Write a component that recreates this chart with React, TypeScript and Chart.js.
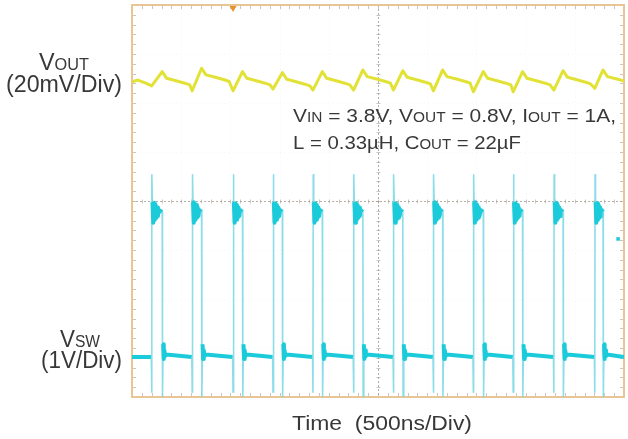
import React, { useEffect, useRef } from "react";
import { Chart, registerables } from "chart.js";

Chart.register(...registerables);

// ---------------- data ----------------
const TIME_DIV_NS = 500;
const X_DIVS = 10;
const Y_DIVS = 8;

// switching edges (ns)
const RISE_NS = [200, 612, 1027, 1433, 1839, 2252, 2657, 3063, 3469, 3874, 4287, 4703];
const FALL_NS = [307, 707, 1123, 1528, 1934, 2346, 2752, 3157, 3570, 3969, 4381, 4787];
const TRIGGER_NS = 1027;

// VSW (1 V/div)
const VSW_LOW_V = 0;
const VSW_HIGH_V = 2.96;
const VSW_RISE_SHAPE_NS = [-4, 0, 3, 8, 16, 24, 32, 40, 48, 56, 64, 72];
const VSW_RISE_SHAPE_V = [0, -0.72, 3.72, 3.16, 2.74, 3.14, 2.8, 3.1, 2.84, 3.05, 2.88, 3.0];
const VSW_FALL_SHAPE_NS = [3, 10, 16, 22, 30, 40];
const VSW_FALL_SHAPE_V = [-0.8, 0.26, -0.04, 0.14, 0.02, 0.05];
const VSW_MARKER_NS = [4940];
const VSW_MARKER_V = [2.41];

// VOUT (20 mV/div)
const VOUT_START_NS = [0, 60, 145];
const VOUT_START_MV = [799.3, 800.0, 798.6];
const VOUT_TROUGH_MV = [797.6, 795.6, 795.6, 796.3, 795.9, 795.9, 795.9, 795.6, 795.2, 795.2, 795.9, 796.6];
const VOUT_PEAK_MV = [803.4, 804.8, 803.4, 803.0, 803.4, 804.1, 803.8, 804.1, 803.4, 803.4, 803.8, 804.1];
const VOUT_SAG_NS = [45, 140, 230, 280];
const VOUT_SAG_MV = [-2.7, -3.7, -4.7, -5.4];

// axis placement (in divisions from the bottom of the screen)
const VSW_ZERO_DIV = 0.816;
const VOUT_REF_MV = 800;
const VOUT_REF_DIV = 6.469;
const VSW_V_PER_DIV = 1;
const VOUT_MV_PER_DIV = 20;

// ---------------- styles ----------------
const FONT = '"Liberation Sans", Arial, sans-serif';
const TEXT_COLOR = "#383838";
const SW_COLOR = "#1ccbd9";
const SW_EDGE = "rgba(120,215,228,0.85)";
const VOUT_COLOR = "#e2e236";
const FRAME = "#e7c594";

function buildVsw() {
  const pts: { x: number; y: number }[] = [{ x: 0, y: VSW_LOW_V }];
  for (let i = 0; i < RISE_NS.length; i++) {
    const r = RISE_NS[i];
    const f = FALL_NS[i];
    VSW_RISE_SHAPE_NS.forEach((dt, k) => {
      if (r + dt < f - 2) pts.push({ x: r + dt, y: VSW_RISE_SHAPE_V[k] });
    });
    pts.push({ x: f, y: VSW_HIGH_V });
    VSW_FALL_SHAPE_NS.forEach((dt, k) => pts.push({ x: f + dt, y: VSW_FALL_SHAPE_V[k] }));
  }
  pts.push({ x: X_DIVS * TIME_DIV_NS, y: VSW_LOW_V });
  return pts;
}

function buildVout() {
  const pts: { x: number; y: number }[] = VOUT_START_NS.map((t, k) => ({ x: t, y: VOUT_START_MV[k] }));
  for (let i = 0; i < RISE_NS.length; i++) {
    pts.push({ x: RISE_NS[i], y: VOUT_TROUGH_MV[i] });
    pts.push({ x: FALL_NS[i], y: VOUT_PEAK_MV[i] });
    VOUT_SAG_NS.forEach((dt, k) => pts.push({ x: FALL_NS[i] + dt, y: VOUT_PEAK_MV[i] + VOUT_SAG_MV[k] }));
  }
  return pts;
}

type Run = [string, number];
function drawRuns(ctx: CanvasRenderingContext2D, runs: Run[], left: number, baseline: number, width: number) {
  let natural = 0;
  for (const [t, s] of runs) {
    ctx.font = `${s}px ${FONT}`;
    natural += ctx.measureText(t).width;
  }
  const sx = width / natural;
  ctx.save();
  ctx.translate(left, baseline);
  ctx.scale(sx, 1);
  ctx.fillStyle = TEXT_COLOR;
  ctx.textBaseline = "alphabetic";
  ctx.textAlign = "left";
  let cx = 0;
  for (const [t, s] of runs) {
    ctx.font = `${s}px ${FONT}`;
    ctx.fillText(t, cx, 0);
    cx += ctx.measureText(t).width;
  }
  ctx.restore();
}

const graticule = {
  id: "graticule",
  beforeDatasetsDraw(chart: any) {
    const { ctx, chartArea: a } = chart;
    const xs = chart.scales.x;
    const divX = (a.right - a.left) / X_DIVS;
    const divY = (a.bottom - a.top) / Y_DIVS;
    ctx.save();
    // faint major grid
    ctx.strokeStyle = "rgba(200,200,200,0.18)";
    ctx.lineWidth = 1;
    ctx.setLineDash([1, 3]);
    for (let i = 1; i < X_DIVS; i++) {
      if (i === X_DIVS / 2) continue;
      const x = Math.round(a.left + i * divX) + 0.5;
      ctx.beginPath();
      ctx.moveTo(x, a.top);
      ctx.lineTo(x, a.bottom);
      ctx.stroke();
    }
    for (let j = 1; j < Y_DIVS; j++) {
      if (j === Y_DIVS / 2) continue;
      const y = Math.round(a.top + j * divY) + 0.5;
      ctx.beginPath();
      ctx.moveTo(a.left, y);
      ctx.lineTo(a.right, y);
      ctx.stroke();
    }
    // center crosshair
    ctx.strokeStyle = "rgba(150,140,130,0.7)";
    ctx.setLineDash([2, 2]);
    const cx = Math.round(xs.getPixelForValue((X_DIVS / 2) * TIME_DIV_NS)) + 0.5;
    const cy = Math.round((a.top + a.bottom) / 2) + 0.5;
    ctx.beginPath();
    ctx.moveTo(cx, a.top);
    ctx.lineTo(cx, a.bottom);
    ctx.moveTo(a.left, cy);
    ctx.lineTo(a.right, cy);
    ctx.stroke();
    ctx.setLineDash([]);
    // minor ticks
    ctx.strokeStyle = "rgba(170,160,150,0.6)";
    ctx.beginPath();
    for (let i = 1; i < X_DIVS * 5; i++) {
      const x = Math.round(a.left + (i * divX) / 5) + 0.5;
      ctx.moveTo(x, a.top);
      ctx.lineTo(x, a.top + 4);
      ctx.moveTo(x, a.bottom);
      ctx.lineTo(x, a.bottom - 4);
      ctx.moveTo(x, cy - 2);
      ctx.lineTo(x, cy + 2);
    }
    for (let j = 1; j < Y_DIVS * 5; j++) {
      const y = Math.round(a.top + (j * divY) / 5) + 0.5;
      ctx.moveTo(a.left, y);
      ctx.lineTo(a.left + 4, y);
      ctx.moveTo(a.right, y);
      ctx.lineTo(a.right - 4, y);
      ctx.moveTo(cx - 2, y);
      ctx.lineTo(cx + 2, y);
    }
    ctx.stroke();
    // frame
    ctx.strokeStyle = FRAME;
    ctx.lineWidth = 2;
    ctx.strokeRect(a.left, a.top, a.right - a.left, a.bottom - a.top);
    // trigger marker
    const tx = xs.getPixelForValue(TRIGGER_NS);
    ctx.fillStyle = "#e8902a";
    ctx.beginPath();
    ctx.moveTo(tx - 3.5, a.top + 1);
    ctx.lineTo(tx + 3.5, a.top + 1);
    ctx.lineTo(tx, a.top + 7);
    ctx.closePath();
    ctx.fill();
    ctx.restore();
  },
  afterDraw(chart: any) {
    const ctx = chart.ctx;
    drawRuns(ctx, [["V", 23], ["OUT", 16]], 39, 70, 50);
    drawRuns(ctx, [["(20mV/Div)", 23]], 6, 92, 116);
    drawRuns(ctx, [["V", 23], ["SW", 16]], 60, 347, 40);
    drawRuns(ctx, [["(1V/Div)", 23]], 41, 368, 81);
    drawRuns(
      ctx,
      [["V", 19], ["IN", 14], [" = 3.8V, V", 19], ["OUT", 14], [" = 0.8V, I", 19], ["OUT", 14], [" = 1A,", 19]],
      293,
      122,
      323
    );
    drawRuns(ctx, [["L = 0.33\u00b5H, C", 19], ["OUT", 14], [" = 22\u00b5F", 19]], 293, 149, 228);
    drawRuns(ctx, [["Time  (500ns/Div)", 20]], 292, 430, 180);
  },
};

export default function App() {
  const ref = useRef<HTMLCanvasElement | null>(null);
  useEffect(() => {
    document.body.style.margin = "0";
    const canvas = ref.current;
    if (!canvas) return;
    const steep = (c: any) => Math.abs(c.p1.parsed.y - c.p0.parsed.y) > 0.5;
    const chart = new Chart(canvas, {
      type: "line",
      data: {
        datasets: [
          {
            label: "VSW",
            data: buildVsw(),
            yAxisID: "y",
            borderColor: SW_COLOR,
            borderWidth: 4,
            pointRadius: 0,
            tension: 0,
            borderJoinStyle: "round",
            segment: {
              borderColor: (c: any) => (steep(c) ? SW_EDGE : SW_COLOR),
              borderWidth: (c: any) => (steep(c) ? 1.6 : 4),
            },
          } as any,
          {
            label: "marker",
            data: VSW_MARKER_NS.map((t, k) => ({ x: t, y: VSW_MARKER_V[k] })),
            yAxisID: "y",
            showLine: false,
            pointStyle: "rect",
            pointRadius: 2.5,
            pointBackgroundColor: SW_COLOR,
            pointBorderWidth: 0,
          } as any,
          {
            label: "VOUT",
            data: buildVout(),
            yAxisID: "y2",
            borderColor: VOUT_COLOR,
            borderWidth: 3,
            pointRadius: 0,
            tension: 0,
            borderJoinStyle: "round",
          } as any,
        ],
      },
      options: {
        animation: false,
        responsive: false,
        devicePixelRatio: 1,
        events: [],
        layout: { padding: { left: 132, top: 5, right: 3, bottom: 42 } },
        plugins: { legend: { display: false }, tooltip: { enabled: false } },
        scales: {
          x: { type: "linear", display: false, min: 0, max: X_DIVS * TIME_DIV_NS },
          y: {
            type: "linear",
            display: false,
            min: -VSW_ZERO_DIV * VSW_V_PER_DIV,
            max: (Y_DIVS - VSW_ZERO_DIV) * VSW_V_PER_DIV,
          },
          y2: {
            type: "linear",
            display: false,
            min: VOUT_REF_MV - VOUT_REF_DIV * VOUT_MV_PER_DIV,
            max: VOUT_REF_MV + (Y_DIVS - VOUT_REF_DIV) * VOUT_MV_PER_DIV,
          },
        },
      } as any,
      plugins: [graticule],
    });
    return () => chart.destroy();
  }, []);
  return (
    <div style={{ width: 628, height: 439, background: "#fff" }}>
      <canvas ref={ref} width={628} height={439} style={{ display: "block" }} />
    </div>
  );
}
